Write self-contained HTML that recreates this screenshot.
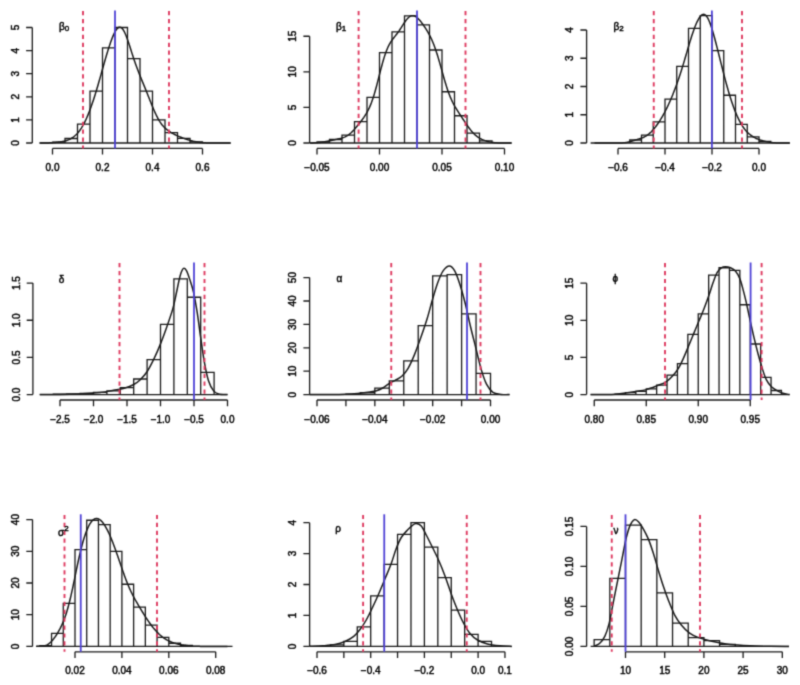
<!DOCTYPE html>
<html><head><meta charset="utf-8"><style>
html,body{margin:0;padding:0;background:#fff;}
svg{display:block;}
.t{font-family:"Liberation Sans",sans-serif;font-size:10px;fill:#000;stroke:#000;stroke-width:0.45px;}

</style></head><body>
<svg width="800" height="685" viewBox="0 0 800 685">
<defs><filter id="f" x="0" y="0" width="800" height="685" filterUnits="userSpaceOnUse" color-interpolation-filters="sRGB"><feConvolveMatrix order="3" kernelMatrix="0.0277 0.1110 0.0277 0.1110 0.4452 0.1110 0.0277 0.1110 0.0277" edgeMode="duplicate"/></filter></defs>
<g filter="url(#f)"><rect width="800" height="685" fill="#fff"/>
<g><path d="M32.30,143.00V27.50M26.10,143.00H32.30M26.10,119.90H32.30M26.10,96.80H32.30M26.10,73.70H32.30M26.10,50.60H32.30M26.10,27.50H32.30" stroke="#1a1a1a" stroke-width="1.3" fill="none"/><path d="M52.50,148.40H202.50M52.50,148.40V154.60M102.50,148.40V154.60M152.50,148.40V154.60M202.50,148.40V154.60" stroke="#1a1a1a" stroke-width="1.3" fill="none"/><path d="M39.50,143.00H230.75" stroke="#1a1a1a" stroke-width="1.3"/><path d="M52.50,143.00V142.08H65.00V143.00M65.00,143.00V138.50H77.50V143.00M77.50,143.00V124.06H90.00V143.00M90.00,143.00V91.03H102.50V143.00M102.50,143.00V47.83H115.00V143.00M115.00,143.00V27.50H127.50V143.00M127.50,143.00V58.69H140.00V143.00M140.00,143.00V91.03H152.50V143.00M152.50,143.00V119.90H165.00V143.00M165.00,143.00V132.60H177.50V143.00M177.50,143.00V138.38H190.00V143.00M190.00,143.00V141.84H202.50V143.00" stroke="#1a1a1a" stroke-width="1.3" fill="none"/><path d="M39.75,143.00 L40.31,143.00 L40.88,143.00 L41.44,143.00 L42.00,142.99 L42.56,142.99 L43.12,142.99 L43.69,142.99 L44.25,142.98 L44.81,142.98 L45.38,142.97 L45.94,142.96 L46.50,142.95 L47.06,142.93 L47.62,142.92 L48.19,142.90 L48.75,142.88 L49.31,142.86 L49.88,142.83 L50.44,142.80 L51.00,142.77 L51.56,142.73 L52.12,142.70 L52.69,142.66 L53.25,142.61 L53.81,142.57 L54.38,142.52 L54.94,142.47 L55.50,142.42 L56.06,142.36 L56.62,142.31 L57.19,142.25 L57.75,142.18 L58.31,142.12 L58.88,142.05 L59.44,141.98 L60.00,141.91 L60.56,141.83 L61.12,141.75 L61.69,141.66 L62.25,141.56 L62.81,141.46 L63.38,141.36 L63.94,141.24 L64.50,141.12 L65.06,140.98 L65.62,140.83 L66.19,140.67 L66.75,140.49 L67.31,140.30 L67.88,140.10 L68.44,139.87 L69.00,139.63 L69.56,139.37 L70.12,139.08 L70.69,138.78 L71.25,138.46 L71.81,138.11 L72.38,137.75 L72.94,137.36 L73.50,136.94 L74.06,136.51 L74.62,136.04 L75.19,135.55 L75.75,135.04 L76.31,134.49 L76.88,133.91 L77.44,133.31 L78.00,132.67 L78.56,132.00 L79.12,131.29 L79.69,130.54 L80.25,129.76 L80.81,128.94 L81.38,128.08 L81.94,127.18 L82.50,126.24 L83.06,125.26 L83.62,124.23 L84.19,123.17 L84.75,122.06 L85.31,120.91 L85.88,119.71 L86.44,118.48 L87.00,117.21 L87.56,115.89 L88.12,114.54 L88.69,113.14 L89.25,111.71 L89.81,110.24 L90.38,108.73 L90.94,107.19 L91.50,105.61 L92.06,103.99 L92.62,102.35 L93.19,100.67 L93.75,98.96 L94.31,97.22 L94.88,95.45 L95.44,93.65 L96.00,91.82 L96.56,89.96 L97.12,88.08 L97.69,86.17 L98.25,84.24 L98.81,82.29 L99.38,80.32 L99.94,78.33 L100.50,76.33 L101.06,74.33 L101.62,72.31 L102.19,70.30 L102.75,68.28 L103.31,66.28 L103.88,64.28 L104.44,62.29 L105.00,60.33 L105.56,58.38 L106.12,56.46 L106.69,54.57 L107.25,52.71 L107.81,50.88 L108.38,49.08 L108.94,47.33 L109.50,45.61 L110.06,43.94 L110.62,42.32 L111.19,40.74 L111.75,39.23 L112.31,37.77 L112.88,36.38 L113.44,35.06 L114.00,33.82 L114.56,32.66 L115.12,31.60 L115.69,30.63 L116.25,29.77 L116.81,29.02 L117.38,28.39 L117.94,27.88 L118.50,27.51 L119.06,27.27 L119.62,27.16 L120.19,27.20 L120.75,27.38 L121.31,27.70 L121.88,28.16 L122.44,28.76 L123.00,29.50 L123.56,30.37 L124.13,31.36 L124.69,32.48 L125.25,33.71 L125.81,35.04 L126.38,36.46 L126.94,37.97 L127.50,39.54 L128.06,41.18 L128.62,42.86 L129.19,44.58 L129.75,46.32 L130.31,48.08 L130.88,49.85 L131.44,51.61 L132.00,53.36 L132.56,55.10 L133.12,56.82 L133.69,58.52 L134.25,60.18 L134.81,61.82 L135.38,63.43 L135.94,65.01 L136.50,66.57 L137.06,68.09 L137.62,69.59 L138.19,71.06 L138.75,72.51 L139.31,73.94 L139.88,75.35 L140.44,76.75 L141.00,78.14 L141.56,79.52 L142.12,80.89 L142.69,82.27 L143.25,83.64 L143.81,85.01 L144.38,86.38 L144.94,87.76 L145.50,89.15 L146.06,90.54 L146.62,91.94 L147.19,93.34 L147.75,94.75 L148.31,96.17 L148.88,97.59 L149.44,99.00 L150.00,100.42 L150.56,101.83 L151.12,103.24 L151.69,104.63 L152.25,106.01 L152.81,107.37 L153.38,108.71 L153.94,110.03 L154.50,111.32 L155.06,112.58 L155.63,113.80 L156.19,114.98 L156.75,116.13 L157.31,117.23 L157.88,118.29 L158.44,119.31 L159.00,120.28 L159.56,121.20 L160.12,122.08 L160.69,122.92 L161.25,123.71 L161.81,124.46 L162.38,125.17 L162.94,125.84 L163.50,126.47 L164.06,127.07 L164.62,127.63 L165.19,128.16 L165.75,128.67 L166.31,129.14 L166.88,129.60 L167.44,130.03 L168.00,130.45 L168.56,130.85 L169.12,131.24 L169.69,131.61 L170.25,131.97 L170.81,132.32 L171.38,132.65 L171.94,132.98 L172.50,133.30 L173.06,133.62 L173.62,133.92 L174.19,134.22 L174.75,134.51 L175.31,134.79 L175.88,135.07 L176.44,135.34 L177.00,135.60 L177.56,135.86 L178.12,136.11 L178.69,136.36 L179.25,136.60 L179.81,136.84 L180.38,137.07 L180.94,137.30 L181.50,137.52 L182.06,137.74 L182.63,137.96 L183.19,138.17 L183.75,138.37 L184.31,138.57 L184.88,138.77 L185.44,138.97 L186.00,139.16 L186.56,139.34 L187.13,139.53 L187.69,139.70 L188.25,139.88 L188.81,140.05 L189.38,140.21 L189.94,140.37 L190.50,140.53 L191.06,140.68 L191.63,140.83 L192.19,140.97 L192.75,141.10 L193.31,141.24 L193.88,141.36 L194.44,141.48 L195.00,141.60 L195.56,141.71 L196.12,141.81 L196.69,141.91 L197.25,142.01 L197.81,142.10 L198.38,142.18 L198.94,142.26 L199.50,142.34 L200.06,142.41 L200.62,142.47 L201.19,142.53 L201.75,142.59 L202.31,142.64 L202.88,142.68 L203.44,142.73 L204.00,142.76 L204.56,142.80 L205.12,142.83 L205.69,142.86 L206.25,142.88 L206.81,142.90 L207.38,142.92 L207.94,142.94 L208.50,142.95 L209.06,142.96 L209.63,142.97 L210.19,142.98 L210.75,142.98 L211.31,142.99 L211.88,142.99 L212.44,142.99 L213.00,142.99 L213.56,143.00 L214.13,143.00 L214.69,143.00 L215.25,143.00 L215.81,143.00 L216.38,143.00 L216.94,143.00 L217.50,143.00 L218.06,143.00 L218.63,142.99 L219.19,142.99 L219.75,142.99 L220.31,142.99 L220.88,142.99 L221.44,142.99 L222.00,142.99 L222.56,142.99 L223.13,142.99 L223.69,142.99 L224.25,142.98 L224.81,142.98 L225.38,142.98 L225.94,142.98 L226.50,142.99 L227.06,142.99 L227.63,142.99 L228.19,142.99 L228.75,142.99 L229.31,142.99 L229.88,142.99 L230.44,142.99" stroke="#1a1a1a" stroke-width="1.5" fill="none"/><path d="M83.00,10.50V148.40" stroke="#de3a60" stroke-width="1.9" stroke-dasharray="4.2 3.7" stroke-dashoffset="-0.6"/><path d="M169.00,10.50V148.40" stroke="#de3a60" stroke-width="1.9" stroke-dasharray="4.2 3.7" stroke-dashoffset="-0.6"/><path d="M115.00,10.50V148.40" stroke="#4f42d6" stroke-width="1.8"/></g>
<g><path d="M309.60,143.00V36.25M303.40,143.00H309.60M303.40,107.41H309.60M303.40,71.83H309.60M303.40,36.25H309.60" stroke="#1a1a1a" stroke-width="1.3" fill="none"/><path d="M317.00,148.40H504.50M317.00,148.40V154.60M379.50,148.40V154.60M442.00,148.40V154.60M504.50,148.40V154.60" stroke="#1a1a1a" stroke-width="1.3" fill="none"/><path d="M309.60,143.00H511.75" stroke="#1a1a1a" stroke-width="1.3"/><path d="M317.00,143.00V142.00H329.50V143.00M329.50,143.00V139.51H342.00V143.00M342.00,143.00V135.03H354.50V143.00M354.50,143.00V121.65H367.00V143.00M367.00,143.00V97.45H379.50V143.00M379.50,143.00V52.61H392.00V143.00M392.00,143.00V31.97H404.50V143.00M404.50,143.00V15.96H417.00V143.00M417.00,143.00V24.86H429.50V143.00M429.50,143.00V49.98H442.00V143.00M442.00,143.00V91.76H454.50V143.00M454.50,143.00V115.74H467.00V143.00M467.00,143.00V133.04H479.50V143.00M479.50,143.00V140.86H492.00V143.00" stroke="#1a1a1a" stroke-width="1.3" fill="none"/><path d="M310.12,142.97 L310.75,142.96 L311.38,142.95 L312.00,142.93 L312.62,142.91 L313.25,142.89 L313.88,142.87 L314.50,142.84 L315.12,142.81 L315.75,142.78 L316.38,142.74 L317.00,142.69 L317.62,142.64 L318.25,142.59 L318.88,142.54 L319.50,142.47 L320.12,142.41 L320.75,142.34 L321.38,142.26 L322.00,142.18 L322.62,142.09 L323.25,142.00 L323.88,141.90 L324.50,141.80 L325.12,141.69 L325.75,141.58 L326.38,141.47 L327.00,141.35 L327.62,141.23 L328.25,141.10 L328.88,140.97 L329.50,140.84 L330.12,140.71 L330.75,140.58 L331.38,140.44 L332.00,140.31 L332.62,140.17 L333.25,140.04 L333.88,139.90 L334.50,139.77 L335.12,139.64 L335.75,139.50 L336.38,139.37 L337.00,139.24 L337.62,139.10 L338.25,138.97 L338.88,138.83 L339.50,138.68 L340.12,138.53 L340.75,138.37 L341.38,138.20 L342.00,138.01 L342.62,137.81 L343.25,137.60 L343.88,137.36 L344.50,137.10 L345.12,136.82 L345.75,136.51 L346.38,136.18 L347.00,135.81 L347.62,135.42 L348.25,135.00 L348.88,134.55 L349.50,134.07 L350.12,133.56 L350.75,133.03 L351.38,132.46 L352.00,131.87 L352.62,131.25 L353.25,130.61 L353.88,129.95 L354.50,129.26 L355.12,128.56 L355.75,127.84 L356.38,127.10 L357.00,126.35 L357.62,125.59 L358.25,124.81 L358.88,124.03 L359.50,123.23 L360.12,122.42 L360.75,121.61 L361.38,120.78 L362.00,119.94 L362.62,119.08 L363.25,118.20 L363.88,117.31 L364.50,116.38 L365.12,115.43 L365.75,114.43 L366.38,113.40 L367.00,112.31 L367.62,111.17 L368.25,109.96 L368.88,108.69 L369.50,107.33 L370.12,105.90 L370.75,104.38 L371.38,102.78 L372.00,101.08 L372.62,99.28 L373.25,97.40 L373.88,95.42 L374.50,93.35 L375.12,91.20 L375.75,88.98 L376.38,86.68 L377.00,84.32 L377.62,81.92 L378.25,79.48 L378.88,77.02 L379.50,74.55 L380.12,72.10 L380.75,69.67 L381.38,67.28 L382.00,64.94 L382.62,62.67 L383.25,60.48 L383.88,58.38 L384.50,56.38 L385.12,54.47 L385.75,52.68 L386.38,50.99 L387.00,49.41 L387.62,47.93 L388.25,46.56 L388.88,45.29 L389.50,44.11 L390.12,43.02 L390.75,42.00 L391.38,41.05 L392.00,40.15 L392.62,39.29 L393.25,38.47 L393.88,37.67 L394.50,36.89 L395.12,36.10 L395.75,35.32 L396.38,34.52 L397.00,33.70 L397.62,32.86 L398.25,32.00 L398.88,31.12 L399.50,30.21 L400.12,29.28 L400.75,28.32 L401.38,27.36 L402.00,26.38 L402.62,25.40 L403.25,24.42 L403.88,23.45 L404.50,22.51 L405.12,21.60 L405.75,20.72 L406.38,19.89 L407.00,19.12 L407.62,18.41 L408.25,17.78 L408.88,17.22 L409.50,16.74 L410.12,16.34 L410.75,16.03 L411.38,15.82 L412.00,15.69 L412.62,15.64 L413.25,15.69 L413.88,15.82 L414.50,16.03 L415.12,16.32 L415.75,16.68 L416.38,17.11 L417.00,17.61 L417.62,18.16 L418.25,18.76 L418.88,19.41 L419.50,20.10 L420.12,20.83 L420.75,21.59 L421.38,22.39 L422.00,23.21 L422.62,24.05 L423.25,24.92 L423.88,25.81 L424.50,26.72 L425.12,27.66 L425.75,28.62 L426.38,29.61 L427.00,30.63 L427.62,31.68 L428.25,32.77 L428.88,33.90 L429.50,35.07 L430.12,36.29 L430.75,37.56 L431.38,38.89 L432.00,40.28 L432.62,41.73 L433.25,43.25 L433.88,44.84 L434.50,46.50 L435.12,48.23 L435.75,50.03 L436.38,51.89 L437.00,53.83 L437.62,55.83 L438.25,57.89 L438.88,60.00 L439.50,62.15 L440.12,64.35 L440.75,66.57 L441.38,68.81 L442.00,71.06 L442.62,73.30 L443.25,75.53 L443.88,77.73 L444.50,79.90 L445.12,82.02 L445.75,84.09 L446.38,86.10 L447.00,88.04 L447.62,89.91 L448.25,91.71 L448.88,93.43 L449.50,95.08 L450.12,96.65 L450.75,98.14 L451.38,99.57 L452.00,100.93 L452.62,102.22 L453.25,103.45 L453.88,104.63 L454.50,105.76 L455.12,106.86 L455.75,107.91 L456.38,108.94 L457.00,109.94 L457.62,110.93 L458.25,111.90 L458.88,112.86 L459.50,113.81 L460.12,114.77 L460.75,115.71 L461.38,116.66 L462.00,117.61 L462.62,118.56 L463.25,119.50 L463.88,120.45 L464.50,121.39 L465.12,122.32 L465.75,123.25 L466.38,124.17 L467.00,125.08 L467.62,125.98 L468.25,126.86 L468.88,127.71 L469.50,128.55 L470.12,129.36 L470.75,130.15 L471.38,130.91 L472.00,131.64 L472.62,132.34 L473.25,133.01 L473.88,133.65 L474.50,134.25 L475.12,134.83 L475.75,135.38 L476.38,135.89 L477.00,136.38 L477.62,136.84 L478.25,137.27 L478.88,137.68 L479.50,138.06 L480.12,138.42 L480.75,138.75 L481.38,139.07 L482.00,139.37 L482.62,139.65 L483.25,139.92 L483.88,140.17 L484.50,140.41 L485.12,140.63 L485.75,140.85 L486.38,141.04 L487.00,141.23 L487.62,141.41 L488.25,141.57 L488.88,141.72 L489.50,141.87 L490.12,142.00 L490.75,142.12 L491.38,142.23 L492.00,142.34 L492.62,142.43 L493.25,142.51 L493.88,142.59 L494.50,142.66 L495.12,142.72 L495.75,142.77 L496.38,142.81 L497.00,142.85 L497.62,142.88 L498.25,142.91 L498.88,142.93 L499.50,142.95 L500.12,142.96 L500.75,142.97 L501.38,142.98 L502.00,142.99 L502.62,142.99 L503.25,142.99 L503.88,142.99 L504.50,143.00 L505.12,143.00 L505.75,142.99 L506.38,142.99 L507.00,142.99 L507.62,142.99 L508.25,142.99 L508.88,142.99 L509.50,142.98 L510.12,142.98 L510.75,142.98 L511.38,142.98" stroke="#1a1a1a" stroke-width="1.5" fill="none"/><path d="M358.60,10.50V148.40" stroke="#de3a60" stroke-width="1.9" stroke-dasharray="4.2 3.7" stroke-dashoffset="-0.6"/><path d="M465.50,10.50V148.40" stroke="#de3a60" stroke-width="1.9" stroke-dasharray="4.2 3.7" stroke-dashoffset="-0.6"/><path d="M417.00,10.50V148.40" stroke="#4f42d6" stroke-width="1.8"/></g>
<g><path d="M586.60,143.00V30.00M580.40,143.00H586.60M580.40,114.75H586.60M580.40,86.50H586.60M580.40,58.25H586.60M580.40,30.00H586.60" stroke="#1a1a1a" stroke-width="1.3" fill="none"/><path d="M618.00,148.40H759.00M618.00,148.40V154.60M665.00,148.40V154.60M712.00,148.40V154.60M759.00,148.40V154.60" stroke="#1a1a1a" stroke-width="1.3" fill="none"/><path d="M590.60,143.00H790.00" stroke="#1a1a1a" stroke-width="1.3"/><path d="M629.75,143.00V140.01H641.50V143.00M641.50,143.00V135.09H653.25V143.00M653.25,143.00V121.81H665.00V143.00M665.00,143.00V99.21H676.75V143.00M676.75,143.00V66.44H688.50V143.00M688.50,143.00V28.31H700.25V143.00M700.25,143.00V15.59H712.00V143.00M712.00,143.00V50.62H723.75V143.00M723.75,143.00V95.26H735.50V143.00M735.50,143.00V124.36H747.25V143.00M747.25,143.00V136.78H759.00V143.00M759.00,143.00V141.31H770.75V143.00" stroke="#1a1a1a" stroke-width="1.3" fill="none"/><path d="M594.50,143.00 L595.03,143.00 L595.56,143.00 L596.09,143.00 L596.62,143.00 L597.14,143.00 L597.67,143.00 L598.20,143.00 L598.73,143.00 L599.26,142.99 L599.79,142.99 L600.32,142.99 L600.85,142.99 L601.37,142.98 L601.90,142.98 L602.43,142.98 L602.96,142.97 L603.49,142.97 L604.02,142.96 L604.55,142.96 L605.08,142.95 L605.60,142.95 L606.13,142.94 L606.66,142.94 L607.19,142.93 L607.72,142.93 L608.25,142.93 L608.78,142.93 L609.30,142.93 L609.83,142.93 L610.36,142.94 L610.89,142.94 L611.42,142.94 L611.95,142.95 L612.48,142.95 L613.01,142.96 L613.53,142.96 L614.06,142.97 L614.59,142.97 L615.12,142.98 L615.65,142.98 L616.18,142.98 L616.71,142.99 L617.24,142.99 L617.76,142.99 L618.29,142.99 L618.82,142.99 L619.35,142.98 L619.88,142.98 L620.41,142.97 L620.94,142.96 L621.47,142.94 L622.00,142.92 L622.52,142.90 L623.05,142.87 L623.58,142.83 L624.11,142.78 L624.64,142.73 L625.17,142.66 L625.70,142.59 L626.23,142.51 L626.75,142.42 L627.28,142.31 L627.81,142.20 L628.34,142.08 L628.87,141.96 L629.40,141.82 L629.93,141.68 L630.45,141.54 L630.98,141.39 L631.51,141.23 L632.04,141.08 L632.57,140.92 L633.10,140.76 L633.63,140.60 L634.16,140.44 L634.68,140.28 L635.21,140.12 L635.74,139.96 L636.27,139.80 L636.80,139.64 L637.33,139.49 L637.86,139.33 L638.39,139.16 L638.91,139.00 L639.44,138.83 L639.97,138.66 L640.50,138.48 L641.03,138.30 L641.56,138.11 L642.09,137.90 L642.62,137.69 L643.14,137.46 L643.67,137.22 L644.20,136.97 L644.73,136.70 L645.26,136.41 L645.79,136.10 L646.32,135.77 L646.85,135.43 L647.38,135.06 L647.90,134.68 L648.43,134.27 L648.96,133.85 L649.49,133.40 L650.02,132.93 L650.55,132.44 L651.08,131.94 L651.61,131.41 L652.13,130.86 L652.66,130.29 L653.19,129.70 L653.72,129.09 L654.25,128.46 L654.78,127.81 L655.31,127.15 L655.84,126.46 L656.36,125.76 L656.89,125.03 L657.42,124.29 L657.95,123.53 L658.48,122.76 L659.01,121.96 L659.54,121.15 L660.06,120.31 L660.59,119.46 L661.12,118.60 L661.65,117.71 L662.18,116.80 L662.71,115.88 L663.24,114.94 L663.77,113.98 L664.29,113.00 L664.82,112.00 L665.35,110.98 L665.88,109.95 L666.41,108.89 L666.94,107.81 L667.47,106.72 L668.00,105.60 L668.52,104.47 L669.05,103.31 L669.58,102.14 L670.11,100.94 L670.64,99.73 L671.17,98.49 L671.70,97.23 L672.23,95.95 L672.75,94.66 L673.28,93.34 L673.81,92.00 L674.34,90.63 L674.87,89.25 L675.40,87.85 L675.93,86.42 L676.46,84.97 L676.99,83.50 L677.51,82.01 L678.04,80.50 L678.57,78.96 L679.10,77.40 L679.63,75.82 L680.16,74.21 L680.69,72.58 L681.22,70.93 L681.74,69.26 L682.27,67.57 L682.80,65.86 L683.33,64.12 L683.86,62.37 L684.39,60.60 L684.92,58.82 L685.44,57.02 L685.97,55.22 L686.50,53.40 L687.03,51.59 L687.56,49.78 L688.09,47.97 L688.62,46.17 L689.15,44.39 L689.67,42.63 L690.20,40.89 L690.73,39.17 L691.26,37.49 L691.79,35.84 L692.32,34.23 L692.85,32.67 L693.38,31.14 L693.90,29.66 L694.43,28.23 L694.96,26.85 L695.49,25.53 L696.02,24.26 L696.55,23.05 L697.08,21.90 L697.61,20.82 L698.13,19.80 L698.66,18.86 L699.19,17.99 L699.72,17.20 L700.25,16.50 L700.78,15.89 L701.31,15.38 L701.84,14.96 L702.37,14.65 L702.89,14.45 L703.42,14.36 L703.95,14.38 L704.48,14.53 L705.01,14.79 L705.54,15.17 L706.07,15.68 L706.60,16.30 L707.12,17.05 L707.65,17.91 L708.18,18.89 L708.71,19.98 L709.24,21.18 L709.77,22.48 L710.30,23.88 L710.83,25.38 L711.35,26.95 L711.88,28.61 L712.41,30.33 L712.94,32.12 L713.47,33.96 L714.00,35.86 L714.53,37.79 L715.05,39.76 L715.58,41.76 L716.11,43.78 L716.64,45.83 L717.17,47.89 L717.70,49.96 L718.23,52.05 L718.76,54.15 L719.28,56.25 L719.81,58.35 L720.34,60.46 L720.87,62.57 L721.40,64.67 L721.93,66.77 L722.46,68.87 L722.99,70.95 L723.51,73.02 L724.04,75.07 L724.57,77.11 L725.10,79.13 L725.63,81.12 L726.16,83.09 L726.69,85.03 L727.22,86.94 L727.75,88.81 L728.27,90.66 L728.80,92.47 L729.33,94.24 L729.86,95.98 L730.39,97.67 L730.92,99.34 L731.45,100.96 L731.98,102.54 L732.50,104.09 L733.03,105.59 L733.56,107.06 L734.09,108.49 L734.62,109.88 L735.15,111.23 L735.68,112.55 L736.21,113.82 L736.73,115.06 L737.26,116.26 L737.79,117.42 L738.32,118.54 L738.85,119.63 L739.38,120.68 L739.91,121.69 L740.43,122.66 L740.96,123.60 L741.49,124.50 L742.02,125.36 L742.55,126.19 L743.08,126.98 L743.61,127.74 L744.14,128.47 L744.66,129.16 L745.19,129.82 L745.72,130.45 L746.25,131.05 L746.78,131.62 L747.31,132.16 L747.84,132.68 L748.37,133.18 L748.89,133.65 L749.42,134.10 L749.95,134.53 L750.48,134.95 L751.01,135.34 L751.54,135.72 L752.07,136.08 L752.60,136.43 L753.12,136.76 L753.65,137.08 L754.18,137.38 L754.71,137.67 L755.24,137.94 L755.77,138.21 L756.30,138.46 L756.83,138.70 L757.36,138.93 L757.88,139.15 L758.41,139.36 L758.94,139.56 L759.47,139.75 L760.00,139.93 L760.53,140.10 L761.06,140.27 L761.59,140.43 L762.11,140.58 L762.64,140.73 L763.17,140.87 L763.70,141.01 L764.23,141.14 L764.76,141.27 L765.29,141.39 L765.82,141.51 L766.34,141.62 L766.87,141.73 L767.40,141.84 L767.93,141.94 L768.46,142.03 L768.99,142.13 L769.52,142.21 L770.05,142.30 L770.57,142.37 L771.10,142.45 L771.63,142.52 L772.16,142.58 L772.69,142.64 L773.22,142.69 L773.75,142.74 L774.27,142.78 L774.80,142.82 L775.33,142.85 L775.86,142.88 L776.39,142.90 L776.92,142.92 L777.45,142.94 L777.98,142.95 L778.50,142.97 L779.03,142.97 L779.56,142.98 L780.09,142.99 L780.62,142.99 L781.15,142.99 L781.68,142.99 L782.21,142.99 L782.74,143.00 L783.26,143.00 L783.79,142.99 L784.32,142.99 L784.85,142.99 L785.38,142.99 L785.91,142.99 L786.44,142.99 L786.97,142.98 L787.49,142.98 L788.02,142.98 L788.55,142.98 L789.08,142.98 L789.61,142.97" stroke="#1a1a1a" stroke-width="1.5" fill="none"/><path d="M653.75,10.50V148.40" stroke="#de3a60" stroke-width="1.9" stroke-dasharray="4.2 3.7" stroke-dashoffset="-0.6"/><path d="M742.00,10.50V148.40" stroke="#de3a60" stroke-width="1.9" stroke-dasharray="4.2 3.7" stroke-dashoffset="-0.6"/><path d="M711.90,10.50V148.40" stroke="#4f42d6" stroke-width="1.8"/></g>
<g><path d="M32.90,394.60V283.11M26.70,394.60H32.90M26.70,357.44H32.90M26.70,320.27H32.90M26.70,283.11H32.90" stroke="#1a1a1a" stroke-width="1.3" fill="none"/><path d="M60.00,400.00H227.50M60.00,400.00V406.20M93.50,400.00V406.20M127.00,400.00V406.20M160.50,400.00V406.20M194.00,400.00V406.20M227.50,400.00V406.20" stroke="#1a1a1a" stroke-width="1.3" fill="none"/><path d="M39.75,394.60H227.50" stroke="#1a1a1a" stroke-width="1.3"/><path d="M53.30,394.60V394.23H66.70V394.60M66.70,394.60V393.86H80.10V394.60M80.10,394.60V393.49H93.50V394.60M93.50,394.60V392.37H106.90V394.60M106.90,394.60V390.88H120.30V394.60M120.30,394.60V387.61H133.70V394.60M133.70,394.60V378.99H147.10V394.60M147.10,394.60V359.66H160.50V394.60M160.50,394.60V324.36H173.90V394.60M173.90,394.60V278.87H187.30V394.60M187.30,394.60V297.23H200.70V394.60M200.70,394.60V372.30H214.10V394.60" stroke="#1a1a1a" stroke-width="1.3" fill="none"/><path d="M39.75,394.50C44.79,394.45 59.96,394.53 70.00,394.20C80.04,393.87 92.92,393.12 100.00,392.50C107.08,391.88 108.33,391.25 112.50,390.50C116.67,389.75 121.46,389.00 125.00,388.00C128.54,387.00 131.25,385.83 133.75,384.50C136.25,383.17 137.76,382.17 140.00,380.00C142.24,377.83 144.82,375.13 147.20,371.50C149.58,367.87 152.08,362.80 154.30,358.20C156.52,353.60 158.45,349.02 160.50,343.90C162.55,338.78 164.57,333.30 166.60,327.50C168.63,321.70 171.17,314.38 172.70,309.10C174.23,303.82 174.77,300.48 175.80,295.80C176.83,291.12 178.03,284.80 178.90,281.00C179.77,277.20 180.22,275.10 181.00,273.00C181.78,270.90 182.67,268.77 183.60,268.40C184.53,268.03 185.52,268.78 186.60,270.80C187.68,272.82 188.93,276.85 190.10,280.50C191.27,284.15 192.40,287.25 193.60,292.70C194.80,298.15 196.12,305.70 197.30,313.20C198.48,320.70 199.52,329.52 200.70,337.70C201.88,345.88 203.10,355.13 204.40,362.30C205.70,369.47 206.97,375.93 208.50,380.70C210.03,385.47 211.90,388.68 213.60,390.90C215.30,393.12 216.38,393.38 218.70,394.00C221.02,394.62 226.03,394.50 227.50,394.60" stroke="#1a1a1a" stroke-width="1.5" fill="none"/><path d="M119.50,262.50V400.00" stroke="#de3a60" stroke-width="1.9" stroke-dasharray="4.2 3.7" stroke-dashoffset="-0.6"/><path d="M204.50,262.50V400.00" stroke="#de3a60" stroke-width="1.9" stroke-dasharray="4.2 3.7" stroke-dashoffset="-0.6"/><path d="M194.00,262.50V400.00" stroke="#4f42d6" stroke-width="1.8"/></g>
<g><path d="M309.60,394.60V277.60M303.40,394.60H309.60M303.40,371.20H309.60M303.40,347.80H309.60M303.40,324.40H309.60M303.40,301.00H309.60M303.40,277.60H309.60" stroke="#1a1a1a" stroke-width="1.3" fill="none"/><path d="M317.00,400.00H490.52M317.00,400.00V406.20M345.92,400.00V406.20M374.84,400.00V406.20M403.76,400.00V406.20M432.68,400.00V406.20M461.60,400.00V406.20M490.52,400.00V406.20" stroke="#1a1a1a" stroke-width="1.3" fill="none"/><path d="M309.60,394.60H509.50" stroke="#1a1a1a" stroke-width="1.3"/><path d="M345.92,394.60V394.13H360.38V394.60M360.38,394.60V392.73H374.84V394.60M374.84,394.60V388.05H389.30V394.60M389.30,394.60V380.79H403.76V394.60M403.76,394.60V360.90H418.22V394.60M418.22,394.60V325.57H432.68V394.60M432.68,394.60V275.96H447.14V394.60M447.14,394.60V274.56H461.60V394.60M461.60,394.60V313.87H476.06V394.60M476.06,394.60V373.31H490.52V394.60" stroke="#1a1a1a" stroke-width="1.3" fill="none"/><path d="M309.60,394.60C313.00,394.58 324.10,394.57 330.00,394.50C335.90,394.43 340.42,394.38 345.00,394.20C349.58,394.02 353.33,393.77 357.50,393.40C361.67,393.03 366.85,392.43 370.00,392.00C373.15,391.57 374.28,391.47 376.40,390.80C378.52,390.13 380.58,389.20 382.70,388.00C384.82,386.80 386.98,384.90 389.10,383.60C391.22,382.30 393.28,381.42 395.40,380.20C397.52,378.98 399.68,378.28 401.80,376.30C403.92,374.32 405.98,371.92 408.10,368.30C410.22,364.68 412.38,359.72 414.50,354.60C416.62,349.48 418.68,343.62 420.80,337.60C422.92,331.58 425.25,324.85 427.20,318.50C429.15,312.15 430.73,305.50 432.50,299.50C434.27,293.50 436.03,287.27 437.80,282.50C439.57,277.73 441.17,273.65 443.10,270.90C445.03,268.15 447.47,266.00 449.40,266.00C451.33,266.00 452.93,267.78 454.70,270.90C456.47,274.02 458.23,279.23 460.00,284.70C461.77,290.17 463.53,296.65 465.30,303.70C467.07,310.75 468.83,319.58 470.60,327.00C472.37,334.42 474.13,341.13 475.90,348.20C477.67,355.27 479.43,363.40 481.20,369.40C482.97,375.40 484.55,380.38 486.50,384.20C488.45,388.02 490.43,390.60 492.90,392.30C495.37,394.00 498.53,394.02 501.30,394.40C504.07,394.78 508.13,394.57 509.50,394.60" stroke="#1a1a1a" stroke-width="1.5" fill="none"/><path d="M391.25,262.50V400.00" stroke="#de3a60" stroke-width="1.9" stroke-dasharray="4.2 3.7" stroke-dashoffset="-0.6"/><path d="M480.50,262.50V400.00" stroke="#de3a60" stroke-width="1.9" stroke-dasharray="4.2 3.7" stroke-dashoffset="-0.6"/><path d="M467.00,262.50V400.00" stroke="#4f42d6" stroke-width="1.8"/></g>
<g><path d="M586.60,394.60V283.15M580.40,394.60H586.60M580.40,357.45H586.60M580.40,320.30H586.60M580.40,283.15H586.60" stroke="#1a1a1a" stroke-width="1.3" fill="none"/><path d="M594.25,400.00H750.25M594.25,400.00V406.20M646.25,400.00V406.20M698.25,400.00V406.20M750.25,400.00V406.20" stroke="#1a1a1a" stroke-width="1.3" fill="none"/><path d="M590.60,394.60H789.60" stroke="#1a1a1a" stroke-width="1.3"/><path d="M615.05,394.60V394.23H625.45V394.60M625.45,394.60V392.59H635.85V394.60M635.85,394.60V391.33H646.25V394.60M646.25,394.60V388.88H656.65V394.60M656.65,394.60V385.09H667.05V394.60M667.05,394.60V375.13H677.45V394.60M677.45,394.60V363.62H687.85V394.60M687.85,394.60V334.42H698.25V394.60M698.25,394.60V313.91H708.65V394.60M708.65,394.60V275.20H719.05V394.60M719.05,394.60V267.77H729.45V394.60M729.45,394.60V270.30H739.85V394.60M739.85,394.60V304.77H750.25V394.60M750.25,394.60V344.00H760.65V394.60M760.65,394.60V377.44H771.05V394.60M771.05,394.60V390.51H781.45V394.60" stroke="#1a1a1a" stroke-width="1.3" fill="none"/><path d="M590.60,394.60C593.00,394.58 600.93,394.57 605.00,394.50C609.07,394.43 611.60,394.43 615.00,394.20C618.40,393.97 621.97,393.55 625.40,393.10C628.83,392.65 632.12,392.08 635.60,391.50C639.08,390.92 642.70,390.55 646.25,389.60C649.80,388.65 653.59,387.10 656.90,385.80C660.21,384.50 663.53,383.38 666.10,381.80C668.67,380.22 670.25,378.55 672.30,376.30C674.35,374.05 676.53,371.33 678.40,368.30C680.27,365.27 681.80,361.83 683.50,358.10C685.20,354.37 686.90,349.98 688.60,345.90C690.30,341.82 692.00,337.70 693.70,333.60C695.40,329.50 697.10,325.38 698.80,321.30C700.50,317.22 702.18,313.52 703.90,309.10C705.62,304.68 707.57,299.23 709.10,294.80C710.63,290.37 711.75,286.25 713.10,282.50C714.45,278.75 715.83,274.75 717.20,272.30C718.57,269.85 719.93,268.73 721.30,267.80C722.67,266.87 723.87,266.70 725.40,266.70C726.93,266.70 728.80,267.05 730.50,267.80C732.20,268.55 734.07,269.43 735.60,271.20C737.13,272.97 738.50,275.50 739.70,278.40C740.90,281.30 741.77,284.85 742.80,288.60C743.83,292.35 744.72,295.78 745.90,300.90C747.08,306.02 748.55,313.17 749.90,319.30C751.25,325.43 752.63,331.92 754.00,337.70C755.37,343.48 756.73,348.90 758.10,354.00C759.47,359.10 760.83,364.03 762.20,368.30C763.57,372.57 764.77,376.53 766.30,379.60C767.83,382.67 769.53,384.83 771.40,386.70C773.27,388.57 775.57,389.70 777.50,390.80C779.43,391.90 780.98,392.67 783.00,393.30C785.02,393.93 788.50,394.38 789.60,394.60" stroke="#1a1a1a" stroke-width="1.5" fill="none"/><path d="M665.00,262.50V400.00" stroke="#de3a60" stroke-width="1.9" stroke-dasharray="4.2 3.7" stroke-dashoffset="-0.6"/><path d="M761.60,262.50V400.00" stroke="#de3a60" stroke-width="1.9" stroke-dasharray="4.2 3.7" stroke-dashoffset="-0.6"/><path d="M750.60,262.50V400.00" stroke="#4f42d6" stroke-width="1.8"/></g>
<g><path d="M32.50,646.40V519.60M26.30,646.40H32.50M26.30,614.70H32.50M26.30,583.00H32.50M26.30,551.30H32.50M26.30,519.60H32.50" stroke="#1a1a1a" stroke-width="1.3" fill="none"/><path d="M75.00,651.80H215.70M75.00,651.80V658.00M121.90,651.80V658.00M168.80,651.80V658.00M215.70,651.80V658.00" stroke="#1a1a1a" stroke-width="1.3" fill="none"/><path d="M36.00,646.40H232.50" stroke="#1a1a1a" stroke-width="1.3"/><path d="M39.83,646.40V645.77H51.55V646.40M51.55,646.40V633.40H63.27V646.40M63.27,646.40V603.29H75.00V646.40M75.00,646.40V549.71H86.72V646.40M86.72,646.40V520.23H98.45V646.40M98.45,646.40V524.67H110.17V646.40M110.17,646.40V551.30H121.90V646.40M121.90,646.40V584.27H133.62V646.40M133.62,646.40V607.09H145.35V646.40M145.35,646.40V625.16H157.07V646.40M157.07,646.40V637.37H168.80V646.40M168.80,646.40V643.23H180.52V646.40M180.52,646.40V645.45H192.25V646.40" stroke="#1a1a1a" stroke-width="1.3" fill="none"/><path d="M36.40,646.34 L36.95,646.35 L37.51,646.35 L38.07,646.36 L38.62,646.36 L39.18,646.36 L39.74,646.35 L40.29,646.33 L40.85,646.31 L41.41,646.28 L41.96,646.24 L42.52,646.18 L43.08,646.10 L43.64,646.01 L44.19,645.89 L44.75,645.74 L45.31,645.57 L45.86,645.37 L46.42,645.13 L46.98,644.86 L47.53,644.55 L48.09,644.21 L48.65,643.83 L49.20,643.41 L49.76,642.95 L50.32,642.46 L50.88,641.93 L51.43,641.37 L51.99,640.78 L52.55,640.15 L53.10,639.49 L53.66,638.80 L54.22,638.07 L54.77,637.32 L55.33,636.54 L55.89,635.72 L56.45,634.88 L57.00,634.00 L57.56,633.10 L58.12,632.16 L58.67,631.19 L59.23,630.19 L59.79,629.15 L60.34,628.07 L60.90,626.95 L61.46,625.78 L62.01,624.57 L62.57,623.30 L63.13,621.98 L63.69,620.60 L64.24,619.16 L64.80,617.65 L65.36,616.06 L65.91,614.41 L66.47,612.67 L67.03,610.85 L67.58,608.96 L68.14,606.98 L68.70,604.91 L69.25,602.76 L69.81,600.53 L70.37,598.23 L70.93,595.84 L71.48,593.39 L72.04,590.87 L72.60,588.30 L73.15,585.67 L73.71,583.01 L74.27,580.31 L74.82,577.60 L75.38,574.88 L75.94,572.16 L76.49,569.46 L77.05,566.78 L77.61,564.13 L78.17,561.53 L78.72,558.98 L79.28,556.49 L79.84,554.07 L80.39,551.71 L80.95,549.43 L81.51,547.22 L82.06,545.10 L82.62,543.05 L83.18,541.08 L83.74,539.20 L84.29,537.40 L84.85,535.68 L85.41,534.05 L85.96,532.49 L86.52,531.02 L87.08,529.64 L87.63,528.34 L88.19,527.11 L88.75,525.98 L89.30,524.92 L89.86,523.95 L90.42,523.05 L90.98,522.24 L91.53,521.51 L92.09,520.86 L92.65,520.29 L93.20,519.80 L93.76,519.39 L94.32,519.05 L94.87,518.80 L95.43,518.62 L95.99,518.51 L96.54,518.48 L97.10,518.52 L97.66,518.64 L98.22,518.82 L98.77,519.06 L99.33,519.37 L99.89,519.75 L100.44,520.18 L101.00,520.67 L101.56,521.22 L102.11,521.83 L102.67,522.49 L103.23,523.21 L103.78,523.97 L104.34,524.79 L104.90,525.66 L105.46,526.57 L106.01,527.54 L106.57,528.55 L107.13,529.61 L107.68,530.71 L108.24,531.85 L108.80,533.04 L109.35,534.26 L109.91,535.52 L110.47,536.82 L111.03,538.15 L111.58,539.51 L112.14,540.90 L112.70,542.32 L113.25,543.77 L113.81,545.23 L114.37,546.72 L114.92,548.24 L115.48,549.77 L116.04,551.32 L116.59,552.89 L117.15,554.47 L117.71,556.07 L118.27,557.68 L118.82,559.30 L119.38,560.93 L119.94,562.56 L120.49,564.20 L121.05,565.83 L121.61,567.46 L122.16,569.09 L122.72,570.70 L123.28,572.29 L123.83,573.87 L124.39,575.42 L124.95,576.96 L125.51,578.46 L126.06,579.93 L126.62,581.38 L127.18,582.79 L127.73,584.17 L128.29,585.51 L128.85,586.82 L129.40,588.10 L129.96,589.34 L130.52,590.55 L131.07,591.73 L131.63,592.88 L132.19,594.01 L132.75,595.10 L133.30,596.17 L133.86,597.23 L134.42,598.26 L134.97,599.27 L135.53,600.27 L136.09,601.25 L136.64,602.23 L137.20,603.19 L137.76,604.15 L138.31,605.10 L138.87,606.04 L139.43,606.98 L139.99,607.91 L140.54,608.83 L141.10,609.76 L141.66,610.67 L142.21,611.59 L142.77,612.49 L143.33,613.40 L143.88,614.29 L144.44,615.18 L145.00,616.06 L145.56,616.93 L146.11,617.79 L146.67,618.65 L147.23,619.49 L147.78,620.32 L148.34,621.14 L148.90,621.94 L149.45,622.73 L150.01,623.51 L150.57,624.28 L151.12,625.03 L151.68,625.76 L152.24,626.48 L152.80,627.19 L153.35,627.88 L153.91,628.55 L154.47,629.21 L155.02,629.85 L155.58,630.48 L156.14,631.10 L156.69,631.70 L157.25,632.28 L157.81,632.85 L158.36,633.40 L158.92,633.93 L159.48,634.46 L160.04,634.96 L160.59,635.45 L161.15,635.93 L161.71,636.38 L162.26,636.83 L162.82,637.26 L163.38,637.67 L163.93,638.07 L164.49,638.45 L165.05,638.82 L165.60,639.17 L166.16,639.51 L166.72,639.84 L167.28,640.15 L167.83,640.45 L168.39,640.73 L168.95,641.01 L169.50,641.27 L170.06,641.52 L170.62,641.76 L171.17,641.99 L171.73,642.21 L172.29,642.42 L172.85,642.62 L173.40,642.81 L173.96,643.00 L174.52,643.17 L175.07,643.34 L175.63,643.50 L176.19,643.65 L176.74,643.79 L177.30,643.93 L177.86,644.06 L178.41,644.18 L178.97,644.30 L179.53,644.41 L180.09,644.52 L180.64,644.62 L181.20,644.71 L181.76,644.81 L182.31,644.89 L182.87,644.98 L183.43,645.06 L183.98,645.14 L184.54,645.21 L185.10,645.28 L185.65,645.35 L186.21,645.42 L186.77,645.49 L187.33,645.55 L187.88,645.62 L188.44,645.68 L189.00,645.74 L189.55,645.80 L190.11,645.85 L190.67,645.90 L191.22,645.95 L191.78,646.00 L192.34,646.05 L192.89,646.09 L193.45,646.13 L194.01,646.17 L194.57,646.20 L195.12,646.23 L195.68,646.26 L196.24,646.29 L196.79,646.31 L197.35,646.33 L197.91,646.34 L198.46,646.35 L199.02,646.37 L199.58,646.37 L200.14,646.38 L200.69,646.39 L201.25,646.39 L201.81,646.39 L202.36,646.39 L202.92,646.40 L203.48,646.40 L204.03,646.40 L204.59,646.40 L205.15,646.40 L205.70,646.40 L206.26,646.40 L206.82,646.39 L207.38,646.39 L207.93,646.39 L208.49,646.39 L209.05,646.39 L209.60,646.39 L210.16,646.39 L210.72,646.38 L211.27,646.38 L211.83,646.38 L212.39,646.38 L212.94,646.38 L213.50,646.38 L214.06,646.38 L214.62,646.38 L215.17,646.38 L215.73,646.38 L216.29,646.39 L216.84,646.39 L217.40,646.39 L217.96,646.39 L218.51,646.39 L219.07,646.39 L219.63,646.39 L220.18,646.39 L220.74,646.40 L221.30,646.40 L221.86,646.40 L222.41,646.40 L222.97,646.40 L223.53,646.40 L224.08,646.40 L224.64,646.40 L225.20,646.40 L225.75,646.40 L226.31,646.40 L226.87,646.40 L227.43,646.40" stroke="#1a1a1a" stroke-width="1.5" fill="none"/><path d="M64.50,514.30V651.80" stroke="#de3a60" stroke-width="1.9" stroke-dasharray="4.2 3.7" stroke-dashoffset="-0.6"/><path d="M157.00,514.30V651.80" stroke="#de3a60" stroke-width="1.9" stroke-dasharray="4.2 3.7" stroke-dashoffset="-0.6"/><path d="M80.75,514.30V651.80" stroke="#4f42d6" stroke-width="1.8"/></g>
<g><path d="M309.60,646.40V522.64M303.40,646.40H309.60M303.40,615.46H309.60M303.40,584.52H309.60M303.40,553.58H309.60M303.40,522.64H309.60" stroke="#1a1a1a" stroke-width="1.3" fill="none"/><path d="M317.00,651.80H504.95M317.00,651.80V658.00M343.85,651.80V658.00M370.70,651.80V658.00M397.55,651.80V658.00M424.40,651.80V658.00M451.25,651.80V658.00M478.10,651.80V658.00M504.95,651.80V658.00" stroke="#1a1a1a" stroke-width="1.3" fill="none"/><path d="M309.60,646.40H511.75" stroke="#1a1a1a" stroke-width="1.3"/><path d="M330.42,646.40V644.85H343.85V646.40M343.85,646.40V641.45H357.27V646.40M357.27,646.40V626.91H370.70V646.40M370.70,646.40V595.97H384.12V646.40M384.12,646.40V564.41H397.55V646.40M397.55,646.40V534.40H410.98V646.40M410.98,646.40V522.64H424.40V646.40M424.40,646.40V547.08H437.82V646.40M437.82,646.40V577.71H451.25V646.40M451.25,646.40V610.20H464.67V646.40M464.67,646.40V634.33H478.10V646.40M478.10,646.40V641.45H491.52V646.40" stroke="#1a1a1a" stroke-width="1.3" fill="none"/><path d="M310.00,646.30C312.08,646.22 318.33,646.08 322.50,645.80C326.67,645.52 331.25,645.32 335.00,644.60C338.75,643.88 341.88,642.87 345.00,641.50C348.12,640.13 351.25,638.40 353.75,636.40C356.25,634.40 357.92,632.23 360.00,629.50C362.08,626.77 364.17,623.67 366.25,620.00C368.33,616.33 370.42,611.88 372.50,607.50C374.58,603.12 376.67,598.54 378.75,593.75C380.83,588.96 382.92,583.79 385.00,578.75C387.08,573.71 389.38,568.54 391.25,563.50C393.12,558.46 394.58,552.83 396.25,548.50C397.92,544.17 399.38,540.58 401.25,537.50C403.12,534.42 405.62,532.03 407.50,530.00C409.38,527.97 411.04,526.37 412.50,525.30C413.96,524.23 414.79,523.48 416.25,523.60C417.71,523.72 419.58,524.10 421.25,526.00C422.92,527.90 424.38,531.42 426.25,535.00C428.12,538.58 430.42,543.25 432.50,547.50C434.58,551.75 436.67,555.75 438.75,560.50C440.83,565.25 442.92,570.42 445.00,576.00C447.08,581.58 449.17,588.33 451.25,594.00C453.33,599.67 455.42,605.08 457.50,610.00C459.58,614.92 461.67,619.58 463.75,623.50C465.83,627.42 467.71,630.75 470.00,633.50C472.29,636.25 474.58,638.27 477.50,640.00C480.42,641.73 483.75,642.93 487.50,643.90C491.25,644.87 495.96,645.38 500.00,645.80C504.04,646.22 509.79,646.30 511.75,646.40" stroke="#1a1a1a" stroke-width="1.5" fill="none"/><path d="M363.10,514.30V651.80" stroke="#de3a60" stroke-width="1.9" stroke-dasharray="4.2 3.7" stroke-dashoffset="-0.6"/><path d="M466.75,514.30V651.80" stroke="#de3a60" stroke-width="1.9" stroke-dasharray="4.2 3.7" stroke-dashoffset="-0.6"/><path d="M384.25,514.30V651.80" stroke="#4f42d6" stroke-width="1.8"/></g>
<g><path d="M586.60,646.40V526.40M580.40,646.40H586.60M580.40,606.40H586.60M580.40,566.40H586.60M580.40,526.40H586.60" stroke="#1a1a1a" stroke-width="1.3" fill="none"/><path d="M625.50,651.80H782.30M625.50,651.80V658.00M664.70,651.80V658.00M703.90,651.80V658.00M743.10,651.80V658.00M782.30,651.80V658.00" stroke="#1a1a1a" stroke-width="1.3" fill="none"/><path d="M590.60,646.40H789.00" stroke="#1a1a1a" stroke-width="1.3"/><path d="M594.14,646.40V639.68H609.82V646.40M609.82,646.40V578.40H625.50V646.40M625.50,646.40V525.12H641.18V646.40M641.18,646.40V539.68H656.86V646.40M656.86,646.40V592.96H672.54V646.40M672.54,646.40V623.20H688.22V646.40M688.22,646.40V637.60H703.90V646.40M703.90,646.40V640.64H719.58V646.40M719.58,646.40V644.40H735.26V646.40" stroke="#1a1a1a" stroke-width="1.3" fill="none"/><path d="M594.20,646.20C595.08,645.75 597.73,645.15 599.50,643.50C601.27,641.85 603.20,639.62 604.80,636.30C606.40,632.98 607.68,629.25 609.10,623.60C610.52,617.95 611.90,609.45 613.30,602.40C614.70,595.35 616.08,588.35 617.50,581.30C618.92,574.25 620.38,567.17 621.80,560.10C623.22,553.03 624.60,544.73 626.00,538.90C627.40,533.07 628.78,528.32 630.20,525.10C631.62,521.88 633.08,520.13 634.50,519.60C635.92,519.07 637.28,520.45 638.70,521.90C640.12,523.35 641.40,525.47 643.00,528.30C644.60,531.13 646.55,534.67 648.30,538.90C650.05,543.13 651.92,548.77 653.50,553.70C655.08,558.63 656.20,563.20 657.80,568.50C659.40,573.80 661.33,580.20 663.10,585.50C664.87,590.80 666.47,595.37 668.40,600.30C670.33,605.23 672.58,611.03 674.70,615.10C676.82,619.17 678.62,621.68 681.10,624.70C683.58,627.72 686.78,631.08 689.60,633.20C692.42,635.32 694.83,636.17 698.00,637.40C701.17,638.63 705.07,639.72 708.60,640.60C712.13,641.48 715.63,642.03 719.20,642.70C722.77,643.37 724.87,644.08 730.00,644.60C735.13,645.12 743.33,645.52 750.00,645.80C756.67,646.08 763.50,646.20 770.00,646.30C776.50,646.40 785.83,646.38 789.00,646.40" stroke="#1a1a1a" stroke-width="1.5" fill="none"/><path d="M611.75,514.30V651.80" stroke="#de3a60" stroke-width="1.9" stroke-dasharray="4.2 3.7" stroke-dashoffset="-0.6"/><path d="M700.00,514.30V651.80" stroke="#de3a60" stroke-width="1.9" stroke-dasharray="4.2 3.7" stroke-dashoffset="-0.6"/><path d="M625.50,514.30V651.80" stroke="#4f42d6" stroke-width="1.8"/></g>
<g><text x="15.40" y="143.00" transform="rotate(-90 15.40 143.00)" text-anchor="middle" dy="0.36em" class="t">0</text><text x="15.40" y="119.90" transform="rotate(-90 15.40 119.90)" text-anchor="middle" dy="0.36em" class="t">1</text><text x="15.40" y="96.80" transform="rotate(-90 15.40 96.80)" text-anchor="middle" dy="0.36em" class="t">2</text><text x="15.40" y="73.70" transform="rotate(-90 15.40 73.70)" text-anchor="middle" dy="0.36em" class="t">3</text><text x="15.40" y="50.60" transform="rotate(-90 15.40 50.60)" text-anchor="middle" dy="0.36em" class="t">4</text><text x="15.40" y="27.50" transform="rotate(-90 15.40 27.50)" text-anchor="middle" dy="0.36em" class="t">5</text><text transform="translate(52.50 167.40)" text-anchor="middle" dy="0.36em" class="t">0.0</text><text transform="translate(102.50 167.40)" text-anchor="middle" dy="0.36em" class="t">0.2</text><text transform="translate(152.50 167.40)" text-anchor="middle" dy="0.36em" class="t">0.4</text><text transform="translate(202.50 167.40)" text-anchor="middle" dy="0.36em" class="t">0.6</text><text x="59" y="26.5" dy="0.36em" class="t">β<tspan font-size="8" dy="1">0</tspan></text><text x="292.70" y="143.00" transform="rotate(-90 292.70 143.00)" text-anchor="middle" dy="0.36em" class="t">0</text><text x="292.70" y="107.41" transform="rotate(-90 292.70 107.41)" text-anchor="middle" dy="0.36em" class="t">5</text><text x="292.70" y="71.83" transform="rotate(-90 292.70 71.83)" text-anchor="middle" dy="0.36em" class="t">10</text><text x="292.70" y="36.25" transform="rotate(-90 292.70 36.25)" text-anchor="middle" dy="0.36em" class="t">15</text><text transform="translate(317.00 167.40)" text-anchor="middle" dy="0.36em" class="t">−0.05</text><text transform="translate(379.50 167.40)" text-anchor="middle" dy="0.36em" class="t">0.00</text><text transform="translate(442.00 167.40)" text-anchor="middle" dy="0.36em" class="t">0.05</text><text transform="translate(504.50 167.40)" text-anchor="middle" dy="0.36em" class="t">0.10</text><text x="336" y="26.5" dy="0.36em" class="t">β<tspan font-size="8" dy="1">1</tspan></text><text x="569.70" y="143.00" transform="rotate(-90 569.70 143.00)" text-anchor="middle" dy="0.36em" class="t">0</text><text x="569.70" y="114.75" transform="rotate(-90 569.70 114.75)" text-anchor="middle" dy="0.36em" class="t">1</text><text x="569.70" y="86.50" transform="rotate(-90 569.70 86.50)" text-anchor="middle" dy="0.36em" class="t">2</text><text x="569.70" y="58.25" transform="rotate(-90 569.70 58.25)" text-anchor="middle" dy="0.36em" class="t">3</text><text x="569.70" y="30.00" transform="rotate(-90 569.70 30.00)" text-anchor="middle" dy="0.36em" class="t">4</text><text transform="translate(618.00 167.40)" text-anchor="middle" dy="0.36em" class="t">−0.6</text><text transform="translate(665.00 167.40)" text-anchor="middle" dy="0.36em" class="t">−0.4</text><text transform="translate(712.00 167.40)" text-anchor="middle" dy="0.36em" class="t">−0.2</text><text transform="translate(759.00 167.40)" text-anchor="middle" dy="0.36em" class="t">0.0</text><text x="613.5" y="26.5" dy="0.36em" class="t">β<tspan font-size="8" dy="1">2</tspan></text><text x="16.00" y="394.60" transform="rotate(-90 16.00 394.60)" text-anchor="middle" dy="0.36em" class="t">0.0</text><text x="16.00" y="357.44" transform="rotate(-90 16.00 357.44)" text-anchor="middle" dy="0.36em" class="t">0.5</text><text x="16.00" y="320.27" transform="rotate(-90 16.00 320.27)" text-anchor="middle" dy="0.36em" class="t">1.0</text><text x="16.00" y="283.11" transform="rotate(-90 16.00 283.11)" text-anchor="middle" dy="0.36em" class="t">1.5</text><text transform="translate(60.00 419.00)" text-anchor="middle" dy="0.36em" class="t">−2.5</text><text transform="translate(93.50 419.00)" text-anchor="middle" dy="0.36em" class="t">−2.0</text><text transform="translate(127.00 419.00)" text-anchor="middle" dy="0.36em" class="t">−1.5</text><text transform="translate(160.50 419.00)" text-anchor="middle" dy="0.36em" class="t">−1.0</text><text transform="translate(194.00 419.00)" text-anchor="middle" dy="0.36em" class="t">−0.5</text><text transform="translate(227.50 419.00)" text-anchor="middle" dy="0.36em" class="t">0.0</text><text x="58.8" y="279.5" dy="0.36em" class="t">δ</text><text x="292.70" y="394.60" transform="rotate(-90 292.70 394.60)" text-anchor="middle" dy="0.36em" class="t">0</text><text x="292.70" y="371.20" transform="rotate(-90 292.70 371.20)" text-anchor="middle" dy="0.36em" class="t">10</text><text x="292.70" y="347.80" transform="rotate(-90 292.70 347.80)" text-anchor="middle" dy="0.36em" class="t">20</text><text x="292.70" y="324.40" transform="rotate(-90 292.70 324.40)" text-anchor="middle" dy="0.36em" class="t">30</text><text x="292.70" y="301.00" transform="rotate(-90 292.70 301.00)" text-anchor="middle" dy="0.36em" class="t">40</text><text x="292.70" y="277.60" transform="rotate(-90 292.70 277.60)" text-anchor="middle" dy="0.36em" class="t">50</text><text transform="translate(317.00 419.00)" text-anchor="middle" dy="0.36em" class="t">−0.06</text><text transform="translate(374.84 419.00)" text-anchor="middle" dy="0.36em" class="t">−0.04</text><text transform="translate(432.68 419.00)" text-anchor="middle" dy="0.36em" class="t">−0.02</text><text transform="translate(490.52 419.00)" text-anchor="middle" dy="0.36em" class="t">0.00</text><text x="336.5" y="278.75" dy="0.36em" class="t">α</text><text x="569.70" y="394.60" transform="rotate(-90 569.70 394.60)" text-anchor="middle" dy="0.36em" class="t">0</text><text x="569.70" y="357.45" transform="rotate(-90 569.70 357.45)" text-anchor="middle" dy="0.36em" class="t">5</text><text x="569.70" y="320.30" transform="rotate(-90 569.70 320.30)" text-anchor="middle" dy="0.36em" class="t">10</text><text x="569.70" y="283.15" transform="rotate(-90 569.70 283.15)" text-anchor="middle" dy="0.36em" class="t">15</text><text transform="translate(594.25 419.00)" text-anchor="middle" dy="0.36em" class="t">0.80</text><text transform="translate(646.25 419.00)" text-anchor="middle" dy="0.36em" class="t">0.85</text><text transform="translate(698.25 419.00)" text-anchor="middle" dy="0.36em" class="t">0.90</text><text transform="translate(750.25 419.00)" text-anchor="middle" dy="0.36em" class="t">0.95</text><text x="612.5" y="278.75" dy="0.36em" class="t">ϕ</text><text x="15.60" y="646.40" transform="rotate(-90 15.60 646.40)" text-anchor="middle" dy="0.36em" class="t">0</text><text x="15.60" y="614.70" transform="rotate(-90 15.60 614.70)" text-anchor="middle" dy="0.36em" class="t">10</text><text x="15.60" y="583.00" transform="rotate(-90 15.60 583.00)" text-anchor="middle" dy="0.36em" class="t">20</text><text x="15.60" y="551.30" transform="rotate(-90 15.60 551.30)" text-anchor="middle" dy="0.36em" class="t">30</text><text x="15.60" y="519.60" transform="rotate(-90 15.60 519.60)" text-anchor="middle" dy="0.36em" class="t">40</text><text transform="translate(75.00 670.80)" text-anchor="middle" dy="0.36em" class="t">0.02</text><text transform="translate(121.90 670.80)" text-anchor="middle" dy="0.36em" class="t">0.04</text><text transform="translate(168.80 670.80)" text-anchor="middle" dy="0.36em" class="t">0.06</text><text transform="translate(215.70 670.80)" text-anchor="middle" dy="0.36em" class="t">0.08</text><text x="58" y="532" dy="0.36em" class="t">σ<tspan font-size="8" dy="-5">2</tspan></text><text x="292.70" y="646.40" transform="rotate(-90 292.70 646.40)" text-anchor="middle" dy="0.36em" class="t">0</text><text x="292.70" y="615.46" transform="rotate(-90 292.70 615.46)" text-anchor="middle" dy="0.36em" class="t">1</text><text x="292.70" y="584.52" transform="rotate(-90 292.70 584.52)" text-anchor="middle" dy="0.36em" class="t">2</text><text x="292.70" y="553.58" transform="rotate(-90 292.70 553.58)" text-anchor="middle" dy="0.36em" class="t">3</text><text x="292.70" y="522.64" transform="rotate(-90 292.70 522.64)" text-anchor="middle" dy="0.36em" class="t">4</text><text transform="translate(317.00 670.80)" text-anchor="middle" dy="0.36em" class="t">−0.6</text><text transform="translate(370.70 670.80)" text-anchor="middle" dy="0.36em" class="t">−0.4</text><text transform="translate(424.40 670.80)" text-anchor="middle" dy="0.36em" class="t">−0.2</text><text transform="translate(478.10 670.80)" text-anchor="middle" dy="0.36em" class="t">0.0</text><text transform="translate(504.95 670.80)" text-anchor="middle" dy="0.36em" class="t">0.1</text><text x="335.3" y="528.5" dy="0.36em" class="t">ρ</text><text x="569.70" y="646.40" transform="rotate(-90 569.70 646.40)" text-anchor="middle" dy="0.36em" class="t">0.00</text><text x="569.70" y="606.40" transform="rotate(-90 569.70 606.40)" text-anchor="middle" dy="0.36em" class="t">0.05</text><text x="569.70" y="566.40" transform="rotate(-90 569.70 566.40)" text-anchor="middle" dy="0.36em" class="t">0.10</text><text x="569.70" y="526.40" transform="rotate(-90 569.70 526.40)" text-anchor="middle" dy="0.36em" class="t">0.15</text><text transform="translate(625.50 670.80)" text-anchor="middle" dy="0.36em" class="t">10</text><text transform="translate(664.70 670.80)" text-anchor="middle" dy="0.36em" class="t">15</text><text transform="translate(703.90 670.80)" text-anchor="middle" dy="0.36em" class="t">20</text><text transform="translate(743.10 670.80)" text-anchor="middle" dy="0.36em" class="t">25</text><text transform="translate(782.30 670.80)" text-anchor="middle" dy="0.36em" class="t">30</text><text x="613.5" y="530.5" dy="0.36em" class="t">ν</text></g></g></svg>
</body></html>
